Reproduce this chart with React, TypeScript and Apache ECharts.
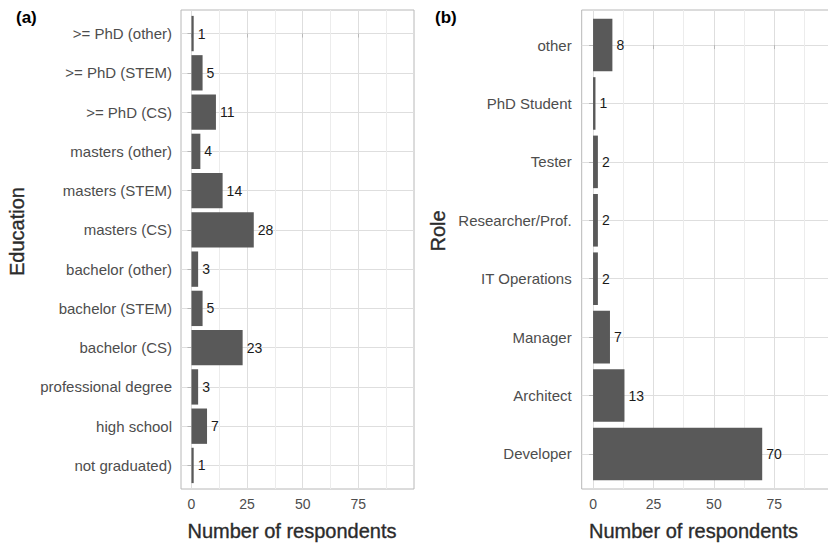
import React, { useEffect, useRef } from "react";
import * as echarts from "echarts";

const eduCategories = [
  ">= PhD (other)",
  ">= PhD (STEM)",
  ">= PhD (CS)",
  "masters (other)",
  "masters (STEM)",
  "masters (CS)",
  "bachelor (other)",
  "bachelor (STEM)",
  "bachelor (CS)",
  "professional degree",
  "high school",
  "not graduated)",
];
const eduValues = [1, 5, 11, 4, 14, 28, 3, 5, 23, 3, 7, 1];

const roleCategories = [
  "other",
  "PhD Student",
  "Tester",
  "Researcher/Prof.",
  "IT Operations",
  "Manager",
  "Architect",
  "Developer",
];
const roleValues = [8, 1, 2, 2, 2, 7, 13, 70];

const xMajorTicks = [0, 25, 50, 75];
const xMinorTicks = [12.5, 37.5, 62.5, 87.5];
const xMin = -4.7;
const xMax = 100;

const FONT = "'Liberation Sans', Arial, Helvetica, sans-serif";
const BAR = "#595959";
const BORDER = "#b8b8b8";
const GRID_MAJOR = "#dedede";
const GRID_MINOR = "#ececec";

function panel(
  idx: number,
  left: number,
  width: number,
  top: number,
  height: number,
  cats: string[],
  vals: number[],
  labelMargin: number
) {
  const n = cats.length;
  const band = height / (n - 1 + 1.2);
  const innerTop = top + 0.1 * band;
  const innerHeight = n * band;
  const g0 = idx * 2;
  const grids = [
    {
      left,
      top,
      width,
      height,
      show: true,
      borderColor: BORDER,
      borderWidth: 1,
      backgroundColor: "transparent",
      containLabel: false,
      outerBoundsMode: "none",
    },
    {
      left,
      top: innerTop,
      width,
      height: innerHeight,
      show: false,
      containLabel: false,
      outerBoundsMode: "none",
    },
  ];
  const xAxes = [
    {
      type: "value",
      gridIndex: g0,
      min: xMin,
      max: xMax,
      position: "bottom",
      axisLine: { show: false },
      axisTick: {
        show: true,
        length: 4,
        customValues: xMajorTicks,
        lineStyle: { color: BORDER, width: 1 },
      },
      axisLabel: {
        show: true,
        customValues: xMajorTicks,
        margin: 8,
        fontSize: 14,
        color: "#4d4d4d",
        fontFamily: FONT,
      },
      splitLine: { show: true, lineStyle: { color: GRID_MAJOR, width: 1 } },
    },
    {
      type: "value",
      gridIndex: g0,
      min: xMin,
      max: xMax,
      position: "top",
      axisLine: { show: false },
      axisTick: { show: false, customValues: xMinorTicks },
      axisLabel: { show: false, customValues: xMinorTicks },
      splitLine: { show: true, lineStyle: { color: GRID_MINOR, width: 1 } },
    },
    {
      type: "value",
      gridIndex: g0 + 1,
      min: xMin,
      max: xMax,
      show: false,
      splitLine: { show: false },
    },
  ];
  const idxTicks = cats.map((_, i) => i);
  const yAxes = [
    {
      type: "value",
      gridIndex: g0,
      min: -0.6,
      max: n - 1 + 0.6,
      inverse: true,
      axisLine: { show: false },
      axisTick: {
        show: true,
        length: 4,
        customValues: idxTicks,
        lineStyle: { color: BORDER, width: 1 },
      },
      axisLabel: { show: false, customValues: idxTicks },
      splitLine: { show: true, lineStyle: { color: GRID_MAJOR, width: 1 } },
    },
    {
      type: "category",
      gridIndex: g0 + 1,
      data: cats,
      inverse: true,
      axisLine: { show: false },
      axisTick: { show: false },
      splitLine: { show: false },
      axisLabel: {
        show: true,
        margin: labelMargin,
        fontSize: 15,
        color: "#4d4d4d",
        fontFamily: FONT,
        interval: 0,
      },
    },
  ];
  const series = {
    type: "bar",
    xAxisIndex: idx * 3 + 2,
    yAxisIndex: idx * 2 + 1,
    data: vals,
    barCategoryGap: "10%",
    itemStyle: { color: BAR },
    label: {
      show: true,
      position: "right",
      distance: 4,
      fontSize: 14,
      color: "#1a1a1a",
      fontFamily: FONT,
    },
  };
  return { grids, xAxes, yAxes, series };
}

export default function App() {
  const ref = useRef<HTMLDivElement>(null);
  useEffect(() => {
    if (!ref.current) return;
    const chart = echarts.init(ref.current, undefined, { renderer: "svg" });
    const a = panel(0, 181, 233, 10, 479, eduCategories, eduValues, 9);
    const b = panel(1, 581.7, 253, 10, 479, roleCategories, roleValues, 10);
    const titleStyle = {
      fontSize: 20,
      fontFamily: FONT,
      fill: "#2b2b2b",
      stroke: "#2b2b2b",
      lineWidth: 0.35,
      align: "center",
      verticalAlign: "middle",
    };
    chart.setOption({
      animation: false,
      backgroundColor: "#ffffff",
      grid: [...a.grids, ...b.grids],
      xAxis: [...a.xAxes, ...b.xAxes],
      yAxis: [...a.yAxes, ...b.yAxes],
      series: [a.series, b.series],
      graphic: [
        {
          type: "text",
          x: 16,
          y: 17,
          style: {
            text: "(a)",
            fontSize: 17,
            fontWeight: "bold",
            fontFamily: FONT,
            fill: "#000000",
            verticalAlign: "middle",
          },
        },
        {
          type: "text",
          x: 435,
          y: 17,
          style: {
            text: "(b)",
            fontSize: 17,
            fontWeight: "bold",
            fontFamily: FONT,
            fill: "#000000",
            verticalAlign: "middle",
          },
        },
        {
          type: "text",
          x: 292,
          y: 531,
          style: { ...titleStyle, text: "Number of respondents" },
        },
        {
          type: "text",
          x: 693.5,
          y: 531,
          style: { ...titleStyle, text: "Number of respondents" },
        },
        {
          type: "text",
          x: 16.5,
          y: 231.5,
          rotation: Math.PI / 2,
          style: { ...titleStyle, text: "Education" },
        },
        {
          type: "text",
          x: 437.5,
          y: 231,
          rotation: Math.PI / 2,
          style: { ...titleStyle, text: "Role" },
        },
      ],
    });
    return () => chart.dispose();
  }, []);
  return (
    <div
      ref={ref}
      style={{ position: "fixed", left: 0, top: 0, width: 828, height: 544 }}
    />
  );
}
